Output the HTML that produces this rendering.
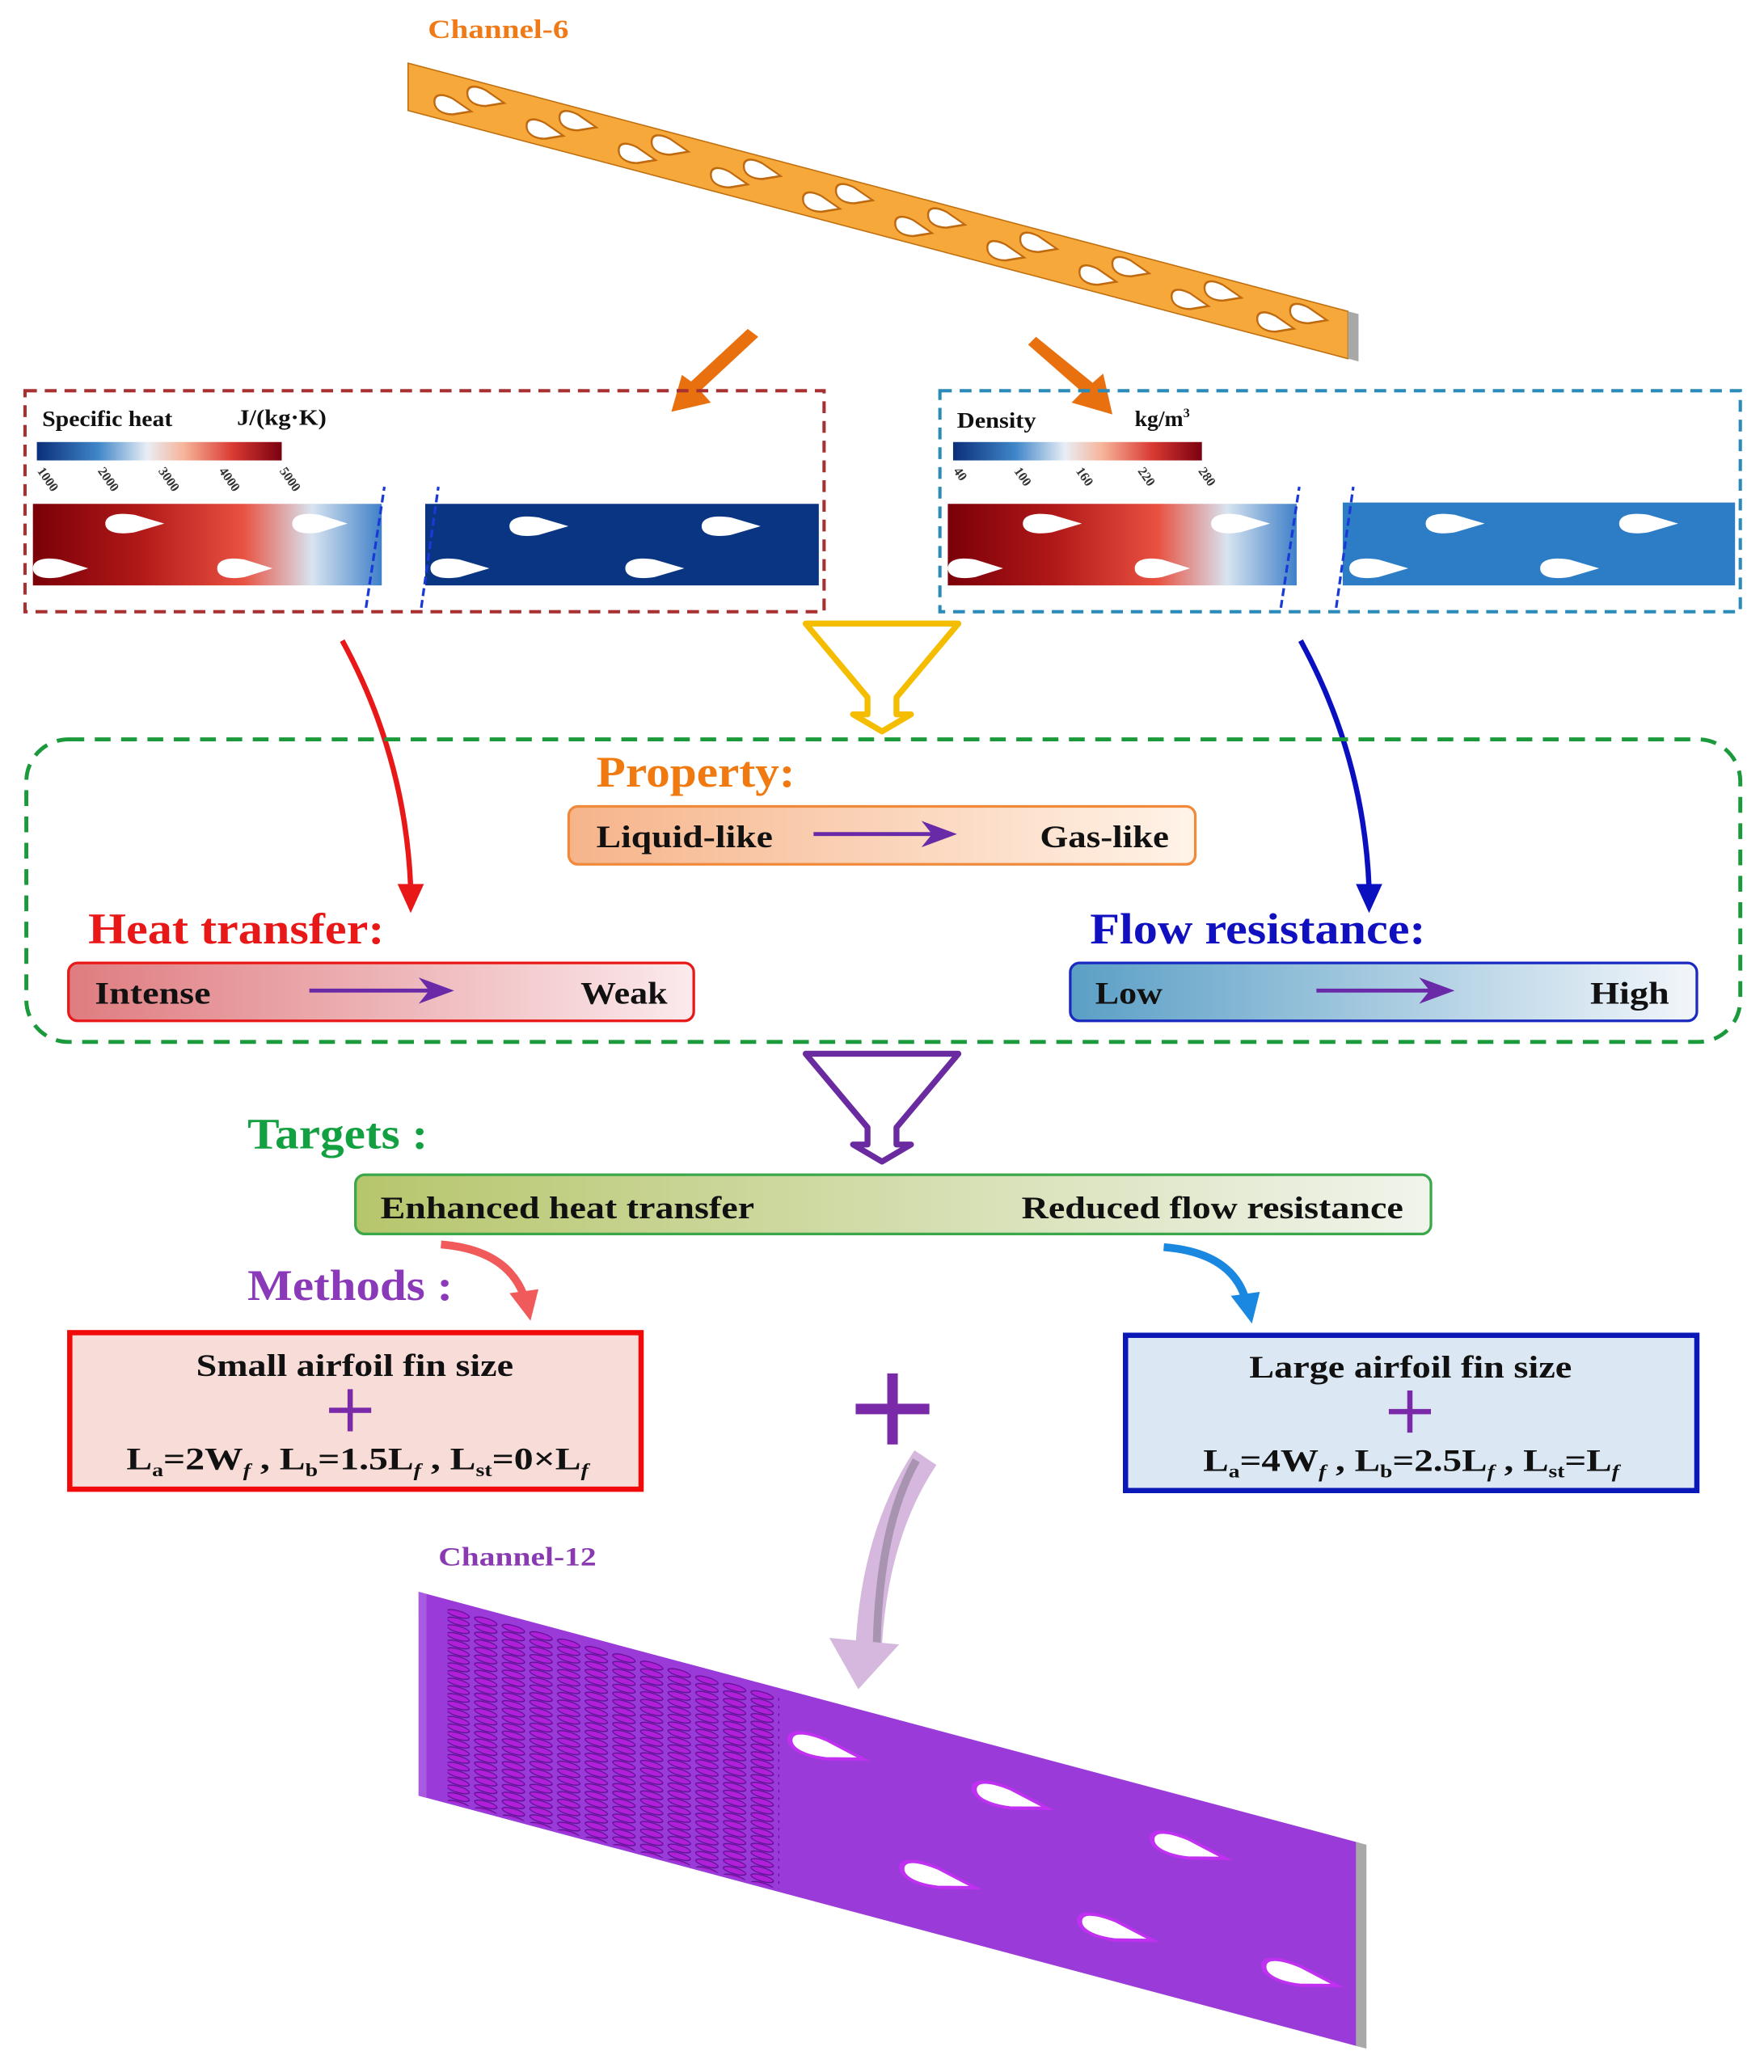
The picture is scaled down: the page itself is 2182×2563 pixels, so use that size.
<!DOCTYPE html>
<html><head><meta charset="utf-8"><style>html,body{margin:0;padding:0;background:#fff}svg{display:block}text{font-family:"Liberation Serif",serif;font-weight:bold}</style></head><body>
<svg width="2182" height="2563" viewBox="0 0 1340 1575" preserveAspectRatio="none" xmlns="http://www.w3.org/2000/svg">
<defs>
<linearGradient id="cb" x1="0" x2="1"><stop offset="0" stop-color="#0b2f7a"/><stop offset="0.25" stop-color="#3f86c8"/><stop offset="0.45" stop-color="#e8eef5"/><stop offset="0.6" stop-color="#f6b49a"/><stop offset="0.8" stop-color="#d93a32"/><stop offset="1" stop-color="#7a0010"/></linearGradient>
<linearGradient id="hot" x1="0" x2="1"><stop offset="0" stop-color="#7a0008"/><stop offset="0.3" stop-color="#b01818"/><stop offset="0.6" stop-color="#e85040"/><stop offset="0.8" stop-color="#d8e4f0"/><stop offset="1" stop-color="#3f80c8"/></linearGradient>
<linearGradient id="gO" x1="0" x2="1"><stop offset="0" stop-color="#f6b48a"/><stop offset="1" stop-color="#fff3e8"/></linearGradient>
<linearGradient id="gR" x1="0" x2="1"><stop offset="0" stop-color="#df7c80"/><stop offset="1" stop-color="#fbeaec"/></linearGradient>
<linearGradient id="gB" x1="0" x2="1"><stop offset="0" stop-color="#5b9fc6"/><stop offset="1" stop-color="#f2f6fa"/></linearGradient>
<linearGradient id="gG" x1="0" x2="1"><stop offset="0" stop-color="#b6c66c"/><stop offset="1" stop-color="#f0f4ec"/></linearGradient>
<path id="af" d="M0,0 C0,-6 6,-8 14,-6 L28,0 L14,6 C6,8 0,6 0,0Z"/>
<pattern id="fins" x="0" y="0" width="21" height="5.8" patternUnits="userSpaceOnUse"><ellipse cx="9" cy="3" rx="8.5" ry="2.4" fill="#b020d8" stroke="#5a1090" stroke-width="0.8"/></pattern>
</defs>

<text x="325" y="29" font-size="20" fill="#f07a18" textLength="107" lengthAdjust="spacingAndGlyphs">Channel-6</text>
<g transform="translate(310,48) skewY(14.8)">
<rect x="0" y="0" width="714" height="36" fill="#f7a83a" stroke="#c07010" stroke-width="1"/>
<rect x="714" y="0" width="8" height="36" fill="#a8a8a8"/>
<g fill="#fff" stroke="#c06a10" stroke-width="1.5">
<use href="#af" x="20" y="24"/><use href="#af" x="45" y="11"/><use href="#af" x="90" y="24"/><use href="#af" x="115" y="11"/>
<use href="#af" x="160" y="24"/><use href="#af" x="185" y="11"/><use href="#af" x="230" y="24"/><use href="#af" x="255" y="11"/>
<use href="#af" x="300" y="24"/><use href="#af" x="325" y="11"/><use href="#af" x="370" y="24"/><use href="#af" x="395" y="11"/>
<use href="#af" x="440" y="24"/><use href="#af" x="465" y="11"/><use href="#af" x="510" y="24"/><use href="#af" x="535" y="11"/>
<use href="#af" x="580" y="24"/><use href="#af" x="605" y="11"/><use href="#af" x="645" y="24"/><use href="#af" x="670" y="11"/>
</g></g>

<g fill="#e8700f">
<path d="M568,250 L576,256 L532,297 L540,306 L510,313 L518,285 L525,290Z"/>
<path d="M787,256 L781,262 L822,298 L814,306 L845,315 L838,284 L830,291Z"/>
</g>

<rect x="19" y="297" width="607" height="168" fill="none" stroke="#a83030" stroke-width="2.5" stroke-dasharray="9,6"/>
<text x="32" y="324" font-size="17" fill="#111" textLength="99" lengthAdjust="spacingAndGlyphs">Specific heat</text>
<text x="180" y="323" font-size="17" fill="#111" textLength="68" lengthAdjust="spacingAndGlyphs">J/(kg·K)</text>
<rect x="28" y="336" width="186" height="14" fill="url(#cb)"/>
<g font-size="10" fill="#333" font-family="Liberation Sans" font-weight="normal">
<text transform="translate(28,358) rotate(55)">1000</text><text transform="translate(74,358) rotate(55)">2000</text><text transform="translate(120,358) rotate(55)">3000</text><text transform="translate(166,358) rotate(55)">4000</text><text transform="translate(212,358) rotate(55)">5000</text></g>
<rect x="25" y="383" width="265" height="62" fill="url(#hot)"/>
<rect x="323" y="383" width="299" height="62" fill="#0a3582"/>
<g fill="#fff"><use href="#af" transform="translate(80,398) scale(1.6,1.1)"/><use href="#af" transform="translate(222,398) scale(1.5,1.1)"/><use href="#af" transform="translate(25,432) scale(1.5,1.1)"/><use href="#af" transform="translate(165,432) scale(1.5,1.1)"/>
<use href="#af" transform="translate(387,400) scale(1.6,1.1)"/><use href="#af" transform="translate(533,400) scale(1.6,1.1)"/><use href="#af" transform="translate(327,432) scale(1.6,1.1)"/><use href="#af" transform="translate(475,432) scale(1.6,1.1)"/></g>
<path d="M278,462 L292,370 M320,462 L333,370" stroke="#1a3ad8" stroke-width="2" stroke-dasharray="6,3"/>

<rect x="714" y="297" width="608" height="168" fill="none" stroke="#2a8ab8" stroke-width="2.5" stroke-dasharray="9,6"/>
<text x="727" y="325" font-size="17" fill="#111" textLength="60" lengthAdjust="spacingAndGlyphs">Density</text>
<text x="862" y="324" font-size="17" fill="#111">kg/m<tspan font-size="10" dy="-7">3</tspan></text>
<rect x="724" y="336" width="189" height="14" fill="url(#cb)"/>
<g font-size="10" fill="#333" font-family="Liberation Sans" font-weight="normal">
<text transform="translate(724,358) rotate(55)">40</text><text transform="translate(770,358) rotate(55)">100</text><text transform="translate(817,358) rotate(55)">160</text><text transform="translate(864,358) rotate(55)">220</text><text transform="translate(910,358) rotate(55)">280</text></g>
<rect x="720" y="383" width="265" height="62" fill="url(#hot)"/>
<rect x="1020" y="382" width="298" height="63" fill="#2c7cc6"/>
<g fill="#fff"><use href="#af" transform="translate(777,398) scale(1.6,1.1)"/><use href="#af" transform="translate(920,398) scale(1.6,1.1)"/><use href="#af" transform="translate(720,432) scale(1.5,1.1)"/><use href="#af" transform="translate(862,432) scale(1.5,1.1)"/>
<use href="#af" transform="translate(1083,398) scale(1.6,1.1)"/><use href="#af" transform="translate(1230,398) scale(1.6,1.1)"/><use href="#af" transform="translate(1025,432) scale(1.6,1.1)"/><use href="#af" transform="translate(1170,432) scale(1.6,1.1)"/></g>
<path d="M973,462 L987,370 M1015,462 L1028,370" stroke="#1a3ad8" stroke-width="2" stroke-dasharray="6,3"/>

<path d="M612,474 L728,474 L681,530 L681,543 L692,543 L670,556 L648,543 L659,543 L659,530 Z" fill="none" stroke="#f5bd00" stroke-width="4.5" stroke-linejoin="round"/>

<path d="M260,487 Q308,575 312,675" fill="none" stroke="#e81818" stroke-width="4"/>
<path d="M302,672 L322,672 L312,694Z" fill="#e81818"/>
<path d="M988,487 Q1036,575 1040,675" fill="none" stroke="#0a10c0" stroke-width="4"/>
<path d="M1030,672 L1050,672 L1040,694Z" fill="#0a10c0"/>

<rect x="20" y="562" width="1302" height="230" rx="32" fill="none" stroke="#1a9a3a" stroke-width="3" stroke-dasharray="12,8"/>

<text x="453" y="598" font-size="33" fill="#f07a10" textLength="151" lengthAdjust="spacingAndGlyphs">Property:</text>
<rect x="432" y="613" width="476" height="44" rx="7" fill="url(#gO)" stroke="#f08a3a" stroke-width="2"/>
<text x="453" y="644" font-size="24" fill="#111" textLength="134" lengthAdjust="spacingAndGlyphs">Liquid-like</text>
<text x="790" y="644" font-size="24" fill="#111" textLength="98" lengthAdjust="spacingAndGlyphs">Gas-like</text>
<path d="M618,634 L715,634" stroke="#6a2aa8" stroke-width="3"/><path d="M700,624 L727,634 L700,644 L708,634Z" fill="#6a2aa8"/>

<text x="67" y="717" font-size="33" fill="#e81818" textLength="225" lengthAdjust="spacingAndGlyphs">Heat transfer:</text>
<rect x="52" y="732" width="475" height="44" rx="7" fill="url(#gR)" stroke="#e81818" stroke-width="2"/>
<text x="72" y="763" font-size="24" fill="#111" textLength="88" lengthAdjust="spacingAndGlyphs">Intense</text>
<text x="441" y="763" font-size="24" fill="#111" textLength="66" lengthAdjust="spacingAndGlyphs">Weak</text>
<path d="M235,753 L333,753" stroke="#6a2aa8" stroke-width="3"/><path d="M318,743 L345,753 L318,763 L326,753Z" fill="#6a2aa8"/>

<text x="828" y="717" font-size="33" fill="#1010c0" textLength="255" lengthAdjust="spacingAndGlyphs">Flow resistance:</text>
<rect x="813" y="732" width="476" height="44" rx="7" fill="url(#gB)" stroke="#1a2ac0" stroke-width="2"/>
<text x="832" y="763" font-size="24" fill="#111" textLength="51" lengthAdjust="spacingAndGlyphs">Low</text>
<text x="1208" y="763" font-size="24" fill="#111" textLength="60" lengthAdjust="spacingAndGlyphs">High</text>
<path d="M1000,753 L1093,753" stroke="#6a2aa8" stroke-width="3"/><path d="M1078,743 L1105,753 L1078,763 L1086,753Z" fill="#6a2aa8"/>

<path d="M612,801 L728,801 L681,857 L681,870 L692,870 L670,883 L648,870 L659,870 L659,857 Z" fill="none" stroke="#6a2aa0" stroke-width="4.5" stroke-linejoin="round"/>

<text x="188" y="873" font-size="33" fill="#13a040" textLength="137" lengthAdjust="spacingAndGlyphs">Targets :</text>
<rect x="270" y="893" width="817" height="45" rx="7" fill="url(#gG)" stroke="#3aa84a" stroke-width="2"/>
<text x="289" y="926" font-size="24" fill="#111" textLength="284" lengthAdjust="spacingAndGlyphs">Enhanced heat transfer</text>
<text x="776" y="926" font-size="24" fill="#111" textLength="290" lengthAdjust="spacingAndGlyphs">Reduced flow resistance</text>

<text x="188" y="988" font-size="33" fill="#8a3ab8" textLength="156" lengthAdjust="spacingAndGlyphs">Methods :</text>
<path d="M335,946 Q385,950 398,985" fill="none" stroke="#f05a5a" stroke-width="6"/>
<path d="M387,983 L409,980 L403,1004Z" fill="#f05a5a"/>
<path d="M884,948 Q935,952 946,987" fill="none" stroke="#1a88e0" stroke-width="6"/>
<path d="M935,985 L957,982 L951,1006Z" fill="#1a88e0"/>

<rect x="53" y="1013" width="434" height="119" fill="#f8dcd8" stroke="#f00a0a" stroke-width="4"/>
<text x="149" y="1046" font-size="24" fill="#111" textLength="241" lengthAdjust="spacingAndGlyphs">Small airfoil fin size</text>
<path d="M266,1056 V1088 M250,1072 H282" stroke="#7a2aa8" stroke-width="4"/>
<text x="96" y="1117" font-size="24" fill="#111" textLength="351" lengthAdjust="spacingAndGlyphs">L<tspan font-size="14" dy="5">a</tspan><tspan dy="-5">=2W</tspan><tspan font-size="14" dy="5" font-style="italic">f</tspan><tspan dy="-5"> , L</tspan><tspan font-size="14" dy="5">b</tspan><tspan dy="-5">=1.5L</tspan><tspan font-size="14" dy="5" font-style="italic">f</tspan><tspan dy="-5"> , L</tspan><tspan font-size="14" dy="5">st</tspan><tspan dy="-5">=0×L</tspan><tspan font-size="14" dy="5" font-style="italic">f</tspan></text>

<rect x="855" y="1015" width="434" height="118" fill="#dbe8f3" stroke="#0a18b8" stroke-width="4"/>
<text x="949" y="1047" font-size="24" fill="#111" textLength="245" lengthAdjust="spacingAndGlyphs">Large airfoil fin size</text>
<path d="M1071,1057 V1089 M1055,1073 H1087" stroke="#7a2aa8" stroke-width="4"/>
<text x="914" y="1118" font-size="24" fill="#111" textLength="316" lengthAdjust="spacingAndGlyphs">L<tspan font-size="14" dy="5">a</tspan><tspan dy="-5">=4W</tspan><tspan font-size="14" dy="5" font-style="italic">f</tspan><tspan dy="-5"> , L</tspan><tspan font-size="14" dy="5">b</tspan><tspan dy="-5">=2.5L</tspan><tspan font-size="14" dy="5" font-style="italic">f</tspan><tspan dy="-5"> , L</tspan><tspan font-size="14" dy="5">st</tspan><tspan dy="-5">=L</tspan><tspan font-size="14" dy="5" font-style="italic">f</tspan></text>

<path d="M678,1044 V1098 M650,1071 H706" stroke="#7a2aa8" stroke-width="8"/>

<path d="M703,1108 Q665,1165 660,1250" fill="none" stroke="#d6b8de" stroke-width="20"/>
<path d="M696,1110 Q668,1160 666,1250" fill="none" stroke="#a894b0" stroke-width="6"/>
<path d="M630,1245 L683,1250 L652,1284Z" fill="#d6b8de"/>

<text x="333" y="1190" font-size="20" fill="#8a3ab0" textLength="120" lengthAdjust="spacingAndGlyphs">Channel-12</text>

<g transform="translate(318,1210) skewY(14.95)">
<rect x="0" y="0" width="714" height="155" fill="#9a3ad8"/>
<rect x="0" y="0" width="6" height="155" fill="#a85ae0"/>
<rect x="712" y="0" width="8" height="155" fill="#a8a8a8"/>
<rect x="22" y="6" width="252" height="147" fill="url(#fins)"/>
<g fill="#fff" stroke="#c030f0" stroke-width="2">
<use href="#af" transform="translate(282,37) scale(2,1.2)"/><use href="#af" transform="translate(422,37) scale(2,1.2)"/><use href="#af" transform="translate(557,39) scale(2,1.2)"/>
<use href="#af" transform="translate(367,112) scale(2,1.2)"/><use href="#af" transform="translate(502,116) scale(2,1.2)"/><use href="#af" transform="translate(642,113) scale(2,1.2)"/>
</g></g>
</svg>
</body></html>
